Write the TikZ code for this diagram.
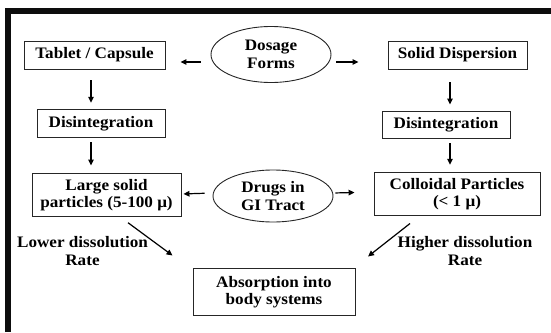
\documentclass[tikz,border=0pt]{standalone}
\usepackage{fontspec}
\setmainfont{Liberation Serif}[FakeStretch=1.07]
\usetikzlibrary{arrows.meta,shapes.geometric}
\begin{document}
\begin{tikzpicture}[x=1pt,y=-1pt,
  every node/.style={font=\fontsize{16}{17.5}\selectfont\bfseries, align=center, inner sep=0pt},
  box/.style={draw=black!85, line width=0.9pt, rectangle},
  oval/.style={draw=black!85, line width=0.9pt, ellipse},
  arr/.style={draw=black, line width=1.2pt, -{Triangle[length=6pt,width=5.5pt]}},
  lbl/.style={}]
\useasboundingbox (0,0) rectangle (551,332);
\draw[line width=5.5pt, line join=miter, black!95] (8,332) -- (8,11) -- (551,11);
% nodes
\node[box, minimum width=141pt, minimum height=28pt] (tablet) at (94.5,55) {Tablet / Capsule};
\node[oval, minimum width=120pt, minimum height=56pt] (dosage) at (271,54.5) {Dosage\\Forms};
\node[box, minimum width=139pt, minimum height=28pt] (solid) at (457.5,55) {Solid Dispersion};
\node[box, minimum width=128pt, minimum height=28pt] (disL) at (101,123.5) {Disintegration};
\node[box, minimum width=128pt, minimum height=27pt] (disR) at (446,124.5) {Disintegration};
\node[box, minimum width=149pt, minimum height=43.5pt] (large) at (106.5,195) {Large solid\\particles (5-100 μ)};
\node[oval, minimum width=120pt, minimum height=52pt] (drugs) at (273,196) {Drugs in\\GI Tract};
\node[box, minimum width=166pt, minimum height=43.5pt] (coll) at (457,194) {Colloidal Particles\\(< 1 μ)};
\node[box, minimum width=162pt, minimum height=47.5pt] (abs) at (274,292) {Absorption into\\body  systems};
\node[lbl] (lower) at (82.5,251) {Lower dissolution\\Rate};
\node[lbl] (higher) at (465,251) {Higher dissolution\\Rate};
% helper coordinates
\coordinate (lx) at (91,0);
\coordinate (rx) at (450,0);
\coordinate (d1e) at (172.5,255.5);
\coordinate (d2e) at (368,256.5);
% connectors
\draw[arr, shorten <=10pt, shorten >=15pt] ([yshift=-7.5pt]dosage.west) -- ([yshift=-7pt]tablet.east);
\draw[arr, shorten <=5pt, shorten >=29pt] ([yshift=-7.5pt]dosage.east) -- ([yshift=-7pt]solid.west);
\draw[arr, shorten <=11pt, shorten >=6.3pt] (tablet.south -| lx) -- (disL.north -| lx);
\draw[arr, shorten <=4.3pt, shorten >=7.3pt] (disL.south -| lx) -- (large.north -| lx);
\draw[arr, shorten <=13pt, shorten >=6pt] (solid.south -| rx) -- (disR.north -| rx);
\draw[arr, shorten <=5pt, shorten >=7pt] (disR.south -| rx) -- (coll.north -| rx);
\draw[arr, shorten <=8pt, shorten >=2pt] ([yshift=3pt]drugs.west) -- ([yshift=1pt]large.east);
\draw[arr, shorten <=2pt, shorten >=19pt] ([yshift=3pt]drugs.east) -- ([yshift=2pt]coll.west);
\draw[arr] ([xshift=21.5pt,yshift=-5.5pt]large.south) -- (d1e);
\draw[arr] ([xshift=-47pt,yshift=-7.3pt]coll.south) -- (d2e);
\end{tikzpicture}
\end{document}
